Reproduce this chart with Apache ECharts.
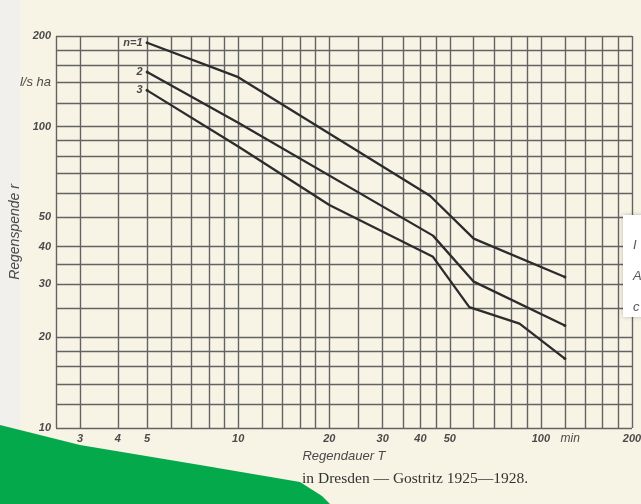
<!DOCTYPE html>
<html>
<head>
<meta charset="utf-8">
<script src="https://cdn.jsdelivr.net/npm/echarts@6/dist/echarts.min.js"></script>
<style>
html, body { margin: 0; padding: 0; background: #f7f3e5; }
#chart { width: 641px; height: 504px; }
</style>
</head>
<body>
<div id="chart"></div>
<script>
// Regendauer T (min) gegen Regenspende r (l/s ha), drei Häufigkeiten
var durations1 = [5, 10, 43, 60, 120];
var rain1 = [190, 146, 59, 42.5, 31.7];
var durations2 = [5, 10, 44, 60, 120];
var rain2 = [152, 103, 43.5, 30.6, 21.9];
var durations3 = [5, 10, 20, 44, 58, 85, 120];
var rain3 = [132, 86, 55, 37, 25.2, 22.2, 17];
var curveNames = ['n=1', '2', '3'];

// Netzlinien des Log-Papiers
var xGrid = [2.5, 3, 4, 5, 6, 7, 8, 9, 10, 12, 14, 16, 18, 20, 25, 30, 35, 40, 45, 50, 60, 70, 80, 90, 100, 120, 140, 160, 180, 200];
var yGrid = [10, 12, 14, 16, 18, 20, 25, 30, 35, 40, 50, 60, 70, 80, 90, 100, 120, 140, 160, 180, 200];
var xTickValues = [3, 4, 5, 10, 20, 30, 40, 50, 100, 200];
var yTickValues = [10, 20, 30, 40, 50, 100, 200];
var xUnit = 'min', xUnitAt = 125;
var yUnit = 'l/s ha', yUnitAt = 140;

var myChart = echarts.init(document.getElementById('chart'));

var labelFont = {
    color: '#4a4a4a',
    fontStyle: 'italic',
    fontWeight: 'bold',
    fontFamily: 'Liberation Sans',
    fontSize: 11
};
var gridLineStyle = { color: '#636363', width: 1.4, type: 'solid' };

var gridLines = [];
xGrid.forEach(function (v) {
    var item = { xAxis: v, lineStyle: gridLineStyle };
    if (xTickValues.indexOf(v) >= 0) {
        item.label = Object.assign({ show: true, position: 'start', distance: 5, formatter: String(v) }, labelFont);
    }
    gridLines.push(item);
});
yGrid.forEach(function (v) {
    var item = { yAxis: v, lineStyle: gridLineStyle };
    if (yTickValues.indexOf(v) >= 0) {
        item.label = Object.assign({ show: true, position: 'start', distance: 5, formatter: String(v) }, labelFont);
    }
    if (v === yUnitAt) {
        item.label = Object.assign({}, labelFont, { show: true, position: 'start', distance: 5, formatter: yUnit, fontSize: 13, fontWeight: 'normal' });
    }
    gridLines.push(item);
});
// Einheit "min" ohne eigene Linie
gridLines.push({
    xAxis: xUnitAt,
    lineStyle: { color: 'rgba(0,0,0,0)', width: 1 },
    label: Object.assign({}, labelFont, { show: true, position: 'start', distance: 5, formatter: xUnit, fontWeight: 'normal', fontSize: 12 })
});

function makeCurve(name, ts, rs) {
    var data = ts.map(function (t, i) { return [t, rs[i]]; });
    data[0] = {
        value: data[0],
        label: Object.assign({ show: true, position: 'left', distance: 3, formatter: name }, labelFont)
    };
    return {
        type: 'line',
        name: name,
        data: data,
        symbol: 'circle',
        symbolSize: function (val, p) { return (p.dataIndex === 0 || p.dataIndex === ts.length - 1) ? 3 : 0; },
        itemStyle: { color: '#2c2c2c' },
        lineStyle: { color: '#2c2c2c', width: 2.3 },
        z: 5
    };
}

var option = {
    backgroundColor: '#f7f3e5',
    animation: false,
    grid: { left: 55, right: 9, top: 36, bottom: 76 },
    xAxis: {
        type: 'log',
        logBase: 10,
        min: 2.5,
        max: 200,
        axisLine: { show: false },
        axisTick: { show: false },
        axisLabel: { show: false },
        splitLine: { show: false },
        name: 'Regendauer T',
        nameLocation: 'middle',
        nameGap: 22,
        nameTextStyle: { color: '#4a4a4a', fontStyle: 'italic', fontFamily: 'Liberation Sans', fontSize: 13 }
    },
    yAxis: {
        type: 'log',
        logBase: 10,
        min: 10,
        max: 200,
        axisLine: { show: false },
        axisTick: { show: false },
        axisLabel: { show: false },
        splitLine: { show: false },
        name: 'Regenspende r',
        nameLocation: 'middle',
        nameGap: 34,
        nameTextStyle: { color: '#4a4a4a', fontStyle: 'italic', fontFamily: 'Liberation Sans', fontSize: 14 }
    },
    series: [
        {
            type: 'line',
            name: 'netz',
            data: [],
            silent: true,
            markLine: {
                silent: true,
                symbol: ['none', 'none'],
                animation: false,
                label: { show: false },
                data: gridLines
            }
        },
        makeCurve(curveNames[0], durations1, rain1),
        makeCurve(curveNames[1], durations2, rain2),
        makeCurve(curveNames[2], durations3, rain3)
    ],
    graphic: [
        { type: 'rect', z: -10, shape: { x: 0, y: 0, width: 20, height: 504 }, style: { fill: '#f1f0ec' } },
        { type: 'text', x: 314, y: 479, z: 10, style: { text: 'in', fill: '#333', font: '15.5px "Liberation Serif"', textAlign: 'right', textVerticalAlign: 'middle' } },
        { type: 'text', x: 318, y: 479, z: 10, style: { text: 'Dresden — Gostritz 1925—1928.', fill: '#333', font: '15.5px "Liberation Serif"', textAlign: 'left', textVerticalAlign: 'middle' } },
        { type: 'polygon', z: 20, shape: { points: [[0, 425], [80, 445], [200, 465], [300, 482], [322, 496], [330, 504], [0, 504]] }, style: { fill: '#04a94b' } },
        { type: 'rect', z: 20, shape: { x: 623, y: 215, width: 30, height: 102 }, style: { fill: '#ffffff', shadowBlur: 4, shadowColor: 'rgba(0,0,0,0.25)' } },
        { type: 'text', z: 21, x: 633, y: 245, style: { text: 'I', fill: '#555', font: 'italic 13px "Liberation Sans"', textVerticalAlign: 'middle' } },
        { type: 'text', z: 21, x: 633, y: 276, style: { text: 'A', fill: '#555', font: 'italic 13px "Liberation Sans"', textVerticalAlign: 'middle' } },
        { type: 'text', z: 21, x: 633, y: 307, style: { text: 'c', fill: '#555', font: 'italic 13px "Liberation Sans"', textVerticalAlign: 'middle' } }
    ]
};

myChart.setOption(option);
</script>
</body>
</html>
